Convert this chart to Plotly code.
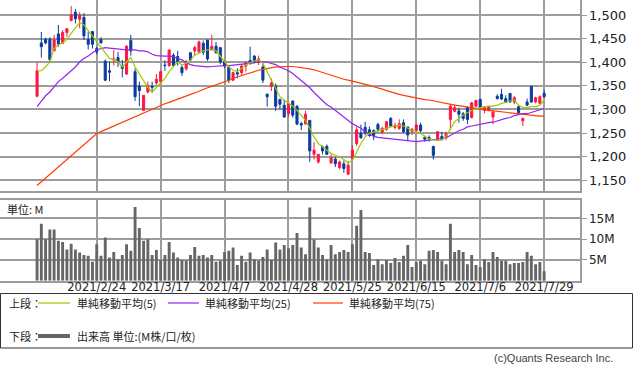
import pandas as pd
import plotly.graph_objects as go

# ---------------- data ----------------
HOLIDAYS = ["2021-02-11", "2021-02-23", "2021-04-29", "2021-05-03", "2021-05-04",
            "2021-05-05", "2021-07-22", "2021-07-23"]
_days = [d for d in pd.bdate_range("2021-02-02", "2021-07-29") if d.strftime("%Y-%m-%d") not in HOLIDAYS]
DATES = [f"{d.year}/{d.month}/{d.day}" for d in _days]

TICK_LABELS = ["2021/2/24", "2021/3/17", "2021/4/7", "2021/4/28",
               "2021/5/25", "2021/6/15", "2021/7/6", "2021/7/29"]
PRICE_TICKS = [1150, 1200, 1250, 1300, 1350, 1400, 1450, 1500]
VOLUME_TICKS = [5, 10, 15]
VOLUME_TICK_TEXT = ["5M", "10M", "15M"]

OPEN = [1328, 1441, 1448, 1448, 1424, 1460, 1440, 1463, 1488, 1506,
        1491, 1495, 1448, 1465, 1429, 1448, 1402, 1382, 1405, 1410,
        1392, 1375, 1446, 1380, 1349, 1298, 1337, 1349, 1356, 1359,
        1394, 1393, 1415, 1412, 1389, 1386, 1420, 1424, 1422, 1440,
        1447, 1427, 1434, 1431, 1401, 1390, 1362, 1378, 1378, 1392,
        1404, 1413, 1400, 1390, 1332, 1349, 1349, 1321, 1309, 1291,
        1318, 1307, 1270, 1269, 1277, 1205, 1189, 1221, 1222, 1187,
        1195, 1177, 1185, 1163, 1196, 1228, 1250, 1262, 1257, 1255,
        1268, 1252, 1258, 1281, 1262, 1260, 1272, 1263, 1254, 1256,
        1267, 1241, 1241, 1222, 1235, 1243, 1241, 1279, 1296, 1297,
        1291, 1304, 1283, 1307, 1321, 1298, 1300, 1284, 1328, 1332,
        1323, 1334, 1316, 1306, 1276, 1316, 1349, 1316, 1313, 1334]
HIGH = [1400, 1464, 1452, 1453, 1458, 1479, 1468, 1471, 1519, 1513,
        1506, 1504, 1465, 1465, 1433, 1453, 1406, 1401, 1426, 1422,
        1405, 1436, 1458, 1387, 1359, 1330, 1359, 1359, 1375, 1382,
        1404, 1426, 1419, 1424, 1394, 1405, 1422, 1435, 1446, 1446,
        1447, 1458, 1443, 1431, 1404, 1392, 1380, 1387, 1396, 1401,
        1433, 1415, 1414, 1397, 1334, 1366, 1355, 1323, 1320, 1316,
        1318, 1309, 1274, 1297, 1277, 1231, 1205, 1224, 1226, 1205,
        1199, 1192, 1192, 1191, 1224, 1263, 1268, 1274, 1264, 1258,
        1272, 1264, 1276, 1284, 1272, 1279, 1279, 1263, 1261, 1270,
        1272, 1245, 1245, 1222, 1253, 1253, 1253, 1311, 1311, 1304,
        1295, 1307, 1316, 1321, 1323, 1307, 1307, 1295, 1332, 1344,
        1330, 1334, 1329, 1306, 1283, 1323, 1349, 1327, 1330, 1341]
LOW = [1326, 1410, 1438, 1400, 1424, 1433, 1440, 1454, 1488, 1482,
       1472, 1447, 1427, 1429, 1417, 1440, 1360, 1360, 1393, 1390,
       1368, 1373, 1414, 1318, 1307, 1298, 1334, 1335, 1352, 1356,
       1382, 1390, 1390, 1393, 1371, 1382, 1402, 1415, 1419, 1415,
       1403, 1426, 1419, 1396, 1388, 1356, 1360, 1366, 1373, 1380,
       1395, 1398, 1394, 1356, 1306, 1339, 1297, 1300, 1283, 1284,
       1283, 1267, 1256, 1269, 1189, 1194, 1185, 1205, 1205, 1185,
       1178, 1173, 1166, 1161, 1196, 1223, 1238, 1245, 1242, 1235,
       1252, 1248, 1255, 1263, 1258, 1257, 1250, 1233, 1246, 1252,
       1250, 1232, 1232, 1194, 1233, 1235, 1235, 1257, 1294, 1272,
       1276, 1269, 1281, 1304, 1302, 1292, 1296, 1269, 1321, 1320,
       1314, 1314, 1311, 1291, 1265, 1307, 1314, 1313, 1311, 1325]
CLOSE = [1382, 1433, 1441, 1406, 1447, 1438, 1463, 1471, 1500, 1492,
         1500, 1456, 1438, 1438, 1422, 1441, 1362, 1379, 1407, 1400,
         1387, 1434, 1424, 1327, 1340, 1330, 1349, 1347, 1364, 1380,
         1393, 1426, 1393, 1400, 1378, 1400, 1405, 1431, 1443, 1421,
         1407, 1434, 1420, 1401, 1392, 1362, 1378, 1375, 1392, 1399,
         1397, 1401, 1407, 1362, 1327, 1356, 1307, 1311, 1284, 1313,
         1288, 1269, 1267, 1290, 1212, 1214, 1205, 1212, 1205, 1198,
         1185, 1189, 1175, 1182, 1214, 1257, 1240, 1250, 1245, 1245,
         1258, 1260, 1274, 1265, 1266, 1270, 1253, 1246, 1258, 1267,
         1255, 1237, 1237, 1203, 1253, 1237, 1249, 1307, 1304, 1290,
         1281, 1279, 1314, 1319, 1304, 1304, 1306, 1295, 1323, 1322,
         1316, 1316, 1325, 1293, 1281, 1309, 1316, 1325, 1327, 1327]

MA5 = [1382, 1382, 1390, 1401, 1429, 1437, 1441, 1448, 1461, 1472,
       1484, 1479, 1467, 1455, 1443, 1433, 1420, 1408, 1406, 1401,
       1390, 1401, 1410, 1390, 1375, 1359, 1347, 1337, 1347, 1355,
       1366, 1380, 1390, 1401, 1394, 1398, 1405, 1415, 1419, 1424,
       1426, 1426, 1424, 1412, 1401, 1390, 1383, 1380, 1387, 1394,
       1399, 1403, 1405, 1398, 1380, 1362, 1347, 1327, 1320, 1314,
       1307, 1298, 1288, 1277, 1260, 1242, 1228, 1221, 1215, 1207,
       1203, 1198, 1194, 1187, 1192, 1210, 1228, 1242, 1250, 1252,
       1255, 1257, 1261, 1263, 1265, 1267, 1265, 1260, 1256, 1253,
       1250, 1243, 1238, 1235, 1235, 1235, 1243, 1260, 1274, 1281,
       1288, 1293, 1298, 1302, 1304, 1306, 1307, 1307, 1309, 1313,
       1316, 1318, 1320, 1309, 1304, 1304, 1306, 1306, 1309, 1320]
MA25 = [1306, 1318, 1329, 1337, 1349, 1359, 1366, 1375, 1382, 1390,
        1401, 1408, 1413, 1420, 1426, 1429, 1431, 1430, 1429, 1427,
        1426, 1426, 1426, 1426, 1424, 1424, 1422, 1417, 1414, 1413,
        1413, 1413, 1412, 1408, 1405, 1399, 1395, 1393, 1392, 1391,
        1390, 1391, 1392, 1393, 1393, 1393, 1394, 1395, 1395, 1397,
        1398, 1399, 1400, 1401, 1400, 1397, 1395, 1390, 1386, 1382,
        1376, 1369, 1362, 1354, 1346, 1336, 1327, 1318, 1310, 1305,
        1298, 1291, 1284, 1277, 1270, 1265, 1260, 1253, 1248, 1243,
        1241, 1240, 1239, 1238, 1237, 1236, 1235, 1234, 1232, 1232,
        1233, 1234, 1235, 1236, 1236, 1238, 1240, 1245, 1250, 1255,
        1258, 1263, 1265, 1267, 1269, 1270, 1272, 1273, 1276, 1279,
        1281, 1283, 1287, 1289, 1291, 1291, 1294, 1297, 1300, 1302]
MA75 = [1139, 1147, 1155, 1163, 1170, 1178, 1186, 1194, 1202, 1210,
        1218, 1226, 1233, 1241, 1249, 1253, 1257, 1261, 1265, 1269,
        1273, 1277, 1281, 1285, 1289, 1293, 1297, 1301, 1305, 1309,
        1312, 1315, 1319, 1322, 1325, 1329, 1332, 1335, 1339, 1342,
        1346, 1349, 1352, 1355, 1358, 1362, 1366, 1369, 1372, 1375,
        1378, 1380, 1383, 1385, 1387, 1389, 1390, 1390, 1391, 1391,
        1391, 1390, 1389, 1388, 1386, 1384, 1381, 1378, 1375, 1372,
        1369, 1366, 1364, 1362, 1360, 1358, 1356, 1354, 1351, 1348,
        1346, 1343, 1340, 1337, 1335, 1332, 1330, 1328, 1326, 1324,
        1323, 1321, 1320, 1318, 1316, 1314, 1312, 1310, 1309, 1308,
        1306, 1305, 1304, 1302, 1300, 1299, 1298, 1297, 1296, 1295,
        1294, 1293, 1291, 1290, 1289, 1288, 1287, 1287, 1286, 1286]

VOLUME_M = [10.0, 13.7, 10.0, 12.3, 12.3, 9.6, 9.3, 7.5, 8.9, 7.5,
            6.8, 6.2, 6.0, 4.6, 8.8, 6.0, 10.4, 5.6, 6.9, 5.2,
            6.2, 8.8, 7.2, 17.7, 12.7, 9.6, 10.0, 6.2, 7.4, 5.0,
            6.2, 9.3, 6.8, 5.6, 5.0, 4.9, 6.2, 8.1, 6.0, 6.2,
            5.6, 6.2, 4.6, 4.8, 6.9, 7.2, 8.0, 3.8, 6.0, 4.6,
            6.8, 5.2, 4.9, 5.7, 7.5, 5.0, 9.2, 7.5, 8.6, 7.8,
            8.6, 11.5, 8.0, 6.4, 17.6, 9.9, 8.0, 6.2, 5.2, 8.6,
            6.4, 6.9, 7.4, 6.9, 8.8, 13.2, 17.0, 6.9, 6.7, 3.8,
            5.2, 4.0, 5.0, 4.3, 5.5, 4.5, 6.0, 8.6, 3.3, 4.5,
            4.8, 4.0, 7.2, 7.4, 6.9, 4.8, 4.0, 13.7, 6.9, 7.4,
            6.9, 4.0, 6.2, 3.8, 3.3, 5.2, 4.5, 6.9, 5.7, 4.8,
            4.8, 4.0, 4.3, 4.3, 4.5, 6.9, 6.0, 4.0, 4.5, 2.3]

LEGEND_TOP = ["単純移動平均(5)", "単純移動平均(25)", "単純移動平均(75)"]
LEGEND_BOTTOM = "出来高 単位:(M株/口/枚)"

# ---------------- style ----------------
W, H = 633, 373
RED = "#ff1744"
BLUE = "#0b3b9e"
C5 = "#9ccc00"
C25 = "#9424f0"
C75 = "#ff3d00"
VOLC = "#666666"
GRID = "#9c9c9c"
TXT = "#222222"
NUMFONT = "DejaVu Sans"
JPFONT = "Noto Sans CJK JP"


def px(x):
    return x / W


def py(y):
    return 1 - y / H


fig = go.Figure()
fig.add_trace(go.Candlestick(
    x=DATES, open=OPEN, high=HIGH, low=LOW, close=CLOSE,
    increasing=dict(line=dict(color=RED, width=1), fillcolor=RED),
    decreasing=dict(line=dict(color=BLUE, width=1), fillcolor=BLUE),
    whiskerwidth=0, xaxis="x", yaxis="y", showlegend=False, hoverinfo="skip"))
for vals, col in [(MA75, C75), (MA25, C25), (MA5, C5)]:
    fig.add_trace(go.Scatter(x=DATES, y=vals, mode="lines", line=dict(color=col, width=1.2),
                             xaxis="x", yaxis="y", showlegend=False, hoverinfo="skip"))
fig.add_trace(go.Bar(x=DATES, y=VOLUME_M, marker=dict(color=VOLC, line=dict(width=0)),
                     width=0.68, xaxis="x2", yaxis="y2", showlegend=False, hoverinfo="skip"))

XR = [-8.7, 127.3]
XDOM = [0, px(579.5)]
common_x = dict(type="category", range=XR, domain=XDOM, tickvals=TICK_LABELS,
                showgrid=True, gridcolor=GRID, gridwidth=2, showline=True, mirror=True,
                linecolor=GRID, linewidth=2, zeroline=False, fixedrange=True, automargin=False)
common_y = dict(side="right", showgrid=True, gridcolor=GRID, gridwidth=2, showline=True,
                mirror=True, linecolor=GRID, linewidth=2, ticks="outside", ticklen=5,
                tickcolor=GRID, tickwidth=1, zeroline=False, automargin=False)

fig.update_layout(
    width=W, height=H, margin=dict(l=0, r=0, t=0, b=0, autoexpand=False),
    paper_bgcolor="white", plot_bgcolor="white", showlegend=False,
    xaxis=dict(**common_x, anchor="y", showticklabels=False, ticks="",
               rangeslider=dict(visible=False)),
    yaxis=dict(**common_y, anchor="x", domain=[py(190.5), py(0)], range=[1128.4, 1531.8],
               tickvals=PRICE_TICKS, tickformat=",",
               tickfont=dict(family=NUMFONT, size=13, color=TXT)),
    xaxis2=dict(**common_x, anchor="y2", showticklabels=True, ticks="", ticktext=TICK_LABELS,
                ticklabelstandoff=-6,
                tickfont=dict(family=NUMFONT, size=11.5, color=TXT)),
    yaxis2=dict(**common_y, anchor="x2", domain=[py(280.8), py(200)], range=[0, 19.4],
                tickvals=VOLUME_TICKS, ticktext=VOLUME_TICK_TEXT,
                tickfont=dict(family=NUMFONT, size=12, color=TXT)),
)

# legend box and items
shapes = [dict(type="rect", xref="paper", yref="paper", x0=px(0.5), x1=px(632.5),
               y0=py(348), y1=py(293.5), line=dict(color="#333333", width=1))]
annotations = []
row1, row2 = 303, 336
annotations.append(dict(x=px(7), y=py(row1), text="上段：", xanchor="left"))
annotations.append(dict(x=px(7), y=py(row2), text="下段：", xanchor="left"))
items = [(38, 70, 75, C5, LEGEND_TOP[0]), (168, 199, 203, C25, LEGEND_TOP[1]),
         (313, 343, 347, C75, LEGEND_TOP[2])]
for lx0, lx1, tx, col, label in items:
    shapes.append(dict(type="line", xref="paper", yref="paper", x0=px(lx0), x1=px(lx1),
                       y0=py(row1), y1=py(row1), line=dict(color=col, width=1.2)))
    annotations.append(dict(x=px(tx), y=py(row1), text=label, xanchor="left"))
shapes.append(dict(type="line", xref="paper", yref="paper", x0=px(38), x1=px(70),
                   y0=py(row2), y1=py(row2), line=dict(color=VOLC, width=4)))
annotations.append(dict(x=px(75), y=py(row2), text=LEGEND_BOTTOM, xanchor="left"))
for a in annotations:
    a.update(xref="paper", yref="paper", yanchor="middle", showarrow=False,
             font=dict(family=JPFONT, size=11, color=TXT))

annotations.append(dict(x=px(5), y=py(209), xref="paper", yref="paper", text="単位: M",
                        xanchor="left", yanchor="middle", showarrow=False,
                        font=dict(family=JPFONT, size=11, color=TXT)))
annotations.append(dict(x=px(615), y=py(358), xref="paper", yref="paper",
                        text="(c)Quants Research Inc.", xanchor="right", yanchor="middle",
                        showarrow=False, font=dict(family="Liberation Sans", size=11, color="#444444")))
fig.update_layout(shapes=shapes, annotations=annotations)

fig.write_html("out.html", config=dict(displayModeBar=False),
               post_script="document.body.style.margin='0';document.body.style.padding='0';")
